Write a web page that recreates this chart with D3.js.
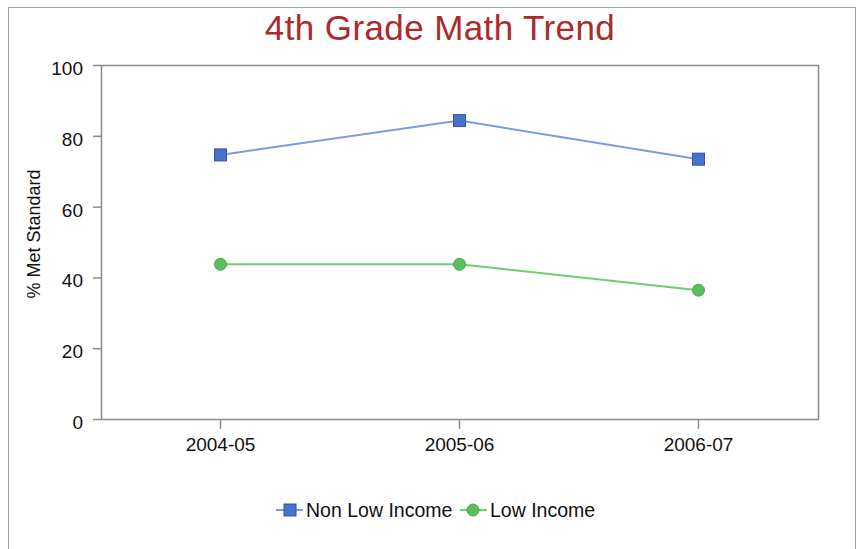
<!DOCTYPE html>
<html><head><meta charset="utf-8">
<script src="https://cdn.jsdelivr.net/npm/d3@7"></script>
<style>body{margin:0;background:#fff;} svg{display:block;}</style>
</head><body>
<svg id="c" width="860" height="549"></svg>
<script>
const categories = ["2004-05", "2005-06", "2006-07"];
const nonLowIncome = [74.6, 84.3, 73.4];
const lowIncome = [43.7, 43.7, 36.4];
const yTicks = [0, 20, 40, 60, 80, 100];
const seriesNames = ["Non Low Income", "Low Income"];

const FONT = "Liberation Sans, Arial, sans-serif";
const svg = d3.select("#c");
svg.append("rect").attr("x", 8.5).attr("y", 7.5).attr("width", 847).attr("height", 600)
  .attr("fill", "#fff").attr("stroke", "#a0a0a0").attr("stroke-width", 1);

const m = {l: 101, t: 65, r: 818, b: 419};
const x = d3.scaleBand().domain(categories).range([m.l, m.r]);
const y = d3.scaleLinear().domain([0, 100]).range([m.b, m.t]);

svg.append("text").attr("x", 440).attr("y", 40).attr("text-anchor", "middle")
  .attr("font-family", FONT).attr("font-size", 35).attr("letter-spacing", 0.4)
  .attr("fill", "#ac2a2c").text("4th Grade Math Trend");

// plot frame
svg.append("rect").attr("x", m.l + 0.5).attr("y", m.t + 0.5).attr("width", m.r - m.l).attr("height", m.b - m.t)
  .attr("fill", "none").attr("stroke", "#8c8c8c").attr("stroke-width", 1.5);

const yAxis = svg.append("g").attr("transform", `translate(${m.l},0)`)
  .call(d3.axisLeft(y).tickValues(yTicks).tickSize(8).tickPadding(10));
yAxis.select(".domain").remove();
yAxis.selectAll("line").attr("stroke", "#8c8c8c").attr("stroke-width", 1.5);
yAxis.selectAll("text").attr("font-family", FONT).attr("font-size", 19).attr("fill", "#111").attr("dy", "0.5em");

const xAxis = svg.append("g").attr("transform", `translate(0,${m.b})`)
  .call(d3.axisBottom(x).tickSize(10).tickPadding(9));
xAxis.select(".domain").remove();
xAxis.selectAll("line").attr("stroke", "#8c8c8c").attr("stroke-width", 1.5);
xAxis.selectAll("text").attr("font-family", FONT).attr("font-size", 19).attr("fill", "#111");

svg.append("text").attr("transform", "translate(40,234) rotate(-90)").attr("text-anchor", "middle")
  .attr("font-family", FONT).attr("font-size", 18).attr("fill", "#111")
  .text("% Met Standard");

const cx = c => x(c) + x.bandwidth() / 2;
const line = d3.line().x((d, i) => cx(categories[i])).y(d => y(d));

const blue = {line: "#7b9be0", fill: "#4a72cc", stroke: "#2f54a8"};
const green = {line: "#6cce6c", fill: "#5cbe5c", stroke: "#48a848"};

svg.append("path").datum(nonLowIncome).attr("d", line).attr("fill", "none").attr("stroke", blue.line).attr("stroke-width", 2);
svg.append("path").datum(lowIncome).attr("d", line).attr("fill", "none").attr("stroke", green.line).attr("stroke-width", 2);

svg.selectAll(".sq").data(nonLowIncome).enter().append("rect")
  .attr("x", (d, i) => cx(categories[i]) - 6).attr("y", d => y(d) - 6)
  .attr("width", 12).attr("height", 12).attr("fill", blue.fill).attr("stroke", blue.stroke).attr("stroke-width", 1);
svg.selectAll(".ci").data(lowIncome).enter().append("circle")
  .attr("cx", (d, i) => cx(categories[i])).attr("cy", d => y(d)).attr("r", 6)
  .attr("fill", green.fill).attr("stroke", green.stroke).attr("stroke-width", 1);

// legend
const lg = svg.append("g").attr("font-family", FONT).attr("font-size", 19.5).attr("fill", "#111");
const ly = 510;
lg.append("line").attr("x1", 276).attr("x2", 303).attr("y1", ly).attr("y2", ly).attr("stroke", blue.line).attr("stroke-width", 2);
lg.append("rect").attr("x", 284).attr("y", ly - 6).attr("width", 12).attr("height", 12).attr("fill", blue.fill).attr("stroke", blue.stroke);
lg.append("text").attr("x", 306).attr("y", ly + 7).text(seriesNames[0]);
lg.append("line").attr("x1", 460).attr("x2", 487).attr("y1", ly).attr("y2", ly).attr("stroke", green.line).attr("stroke-width", 2);
lg.append("circle").attr("cx", 473).attr("cy", ly).attr("r", 6).attr("fill", green.fill).attr("stroke", green.stroke);
lg.append("text").attr("x", 490).attr("y", ly + 7).text(seriesNames[1]);
</script>
</body></html>
